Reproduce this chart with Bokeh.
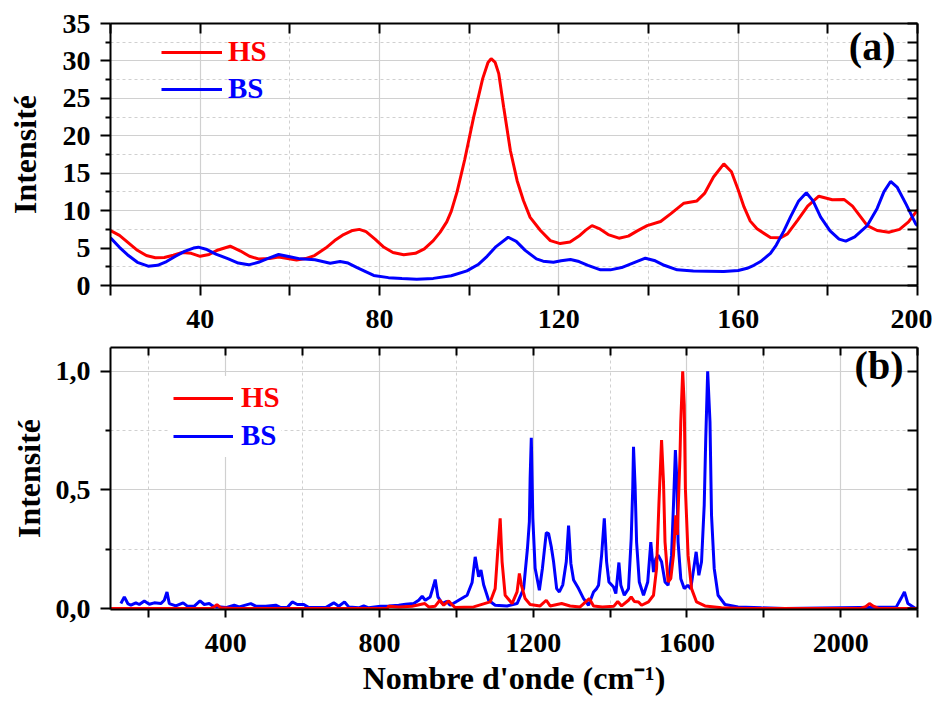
from bokeh.plotting import figure
from bokeh.layouts import column
from bokeh.models import (FixedTicker, LinearAxis, Range1d, Legend, LegendItem, Label,
                          CustomLabelingPolicy)
from bokeh.embed import file_html
from bokeh.resources import INLINE

FONT = "Liberation Serif"
RED = "#ff0000"
BLUE = "#0000ff"
GRID = "#d0d0d0"

# ---------------- panel (a) : 20 - 200 cm-1 ----------------
hs_a_x = [20, 22, 24, 26, 28, 30, 32, 34, 36, 38, 40, 42, 44, 46.7, 49, 51, 53, 55.5, 57.5,
          59.5, 61.5, 63.5, 65.5, 68, 70, 72, 74, 75.5, 77, 79, 81, 83, 85.4, 88, 90, 92,
          93.5, 95, 96, 97.3, 99, 101, 103, 104.2, 104.9, 105.8, 106.6, 107.7, 109.2, 110.7,
          112.1, 113.6, 115.9, 118.1, 120.3, 122.5, 124.5, 126, 127.4, 129, 131, 133.4, 135.5,
          137.5, 139.7, 142.7, 145, 147.9, 150.8, 152.5, 154.5, 156.8, 158.5, 160, 161.3,
          162.7, 164.2, 167.2, 169.5, 171, 173.2, 175.5, 178, 181, 183.6, 185.5, 188.8, 191,
          193.6, 196, 198, 200]
hs_a_y = [7.35, 6.7, 5.7, 4.7, 4.0, 3.7, 3.75, 4.05, 4.4, 4.3, 3.9, 4.15, 4.75, 5.25, 4.6, 3.9,
          3.55, 3.6, 3.8, 3.6, 3.4, 3.6, 4.0, 5.0, 6.0, 6.8, 7.35, 7.5, 7.2, 6.2, 5.1, 4.4, 4.1,
          4.3, 4.9, 6.0, 7.1, 8.5, 9.9, 12.5, 16.8, 22.5, 27.6, 29.8, 30.3, 29.8, 28.3, 23.8,
          18.0, 14.0, 11.35, 9.1, 7.35, 6.0, 5.6, 5.8, 6.6, 7.4, 8.0, 7.6, 6.8, 6.32, 6.6, 7.3,
          8.0, 8.55, 9.6, 11.0, 11.3, 12.3, 14.5, 16.25, 15.2, 12.8, 10.5, 8.6, 7.57, 6.4, 6.37,
          6.9, 8.68, 10.6, 11.93, 11.45, 11.5, 10.6, 8.0, 7.35, 7.12, 7.5, 8.5, 10.1]

bs_a_x = [20, 22, 24, 26, 28.4, 30.5, 32.5, 34.5, 36.5, 38.5, 39.6, 41.5, 43.5, 46.3, 48.5,
          50.8, 53, 55, 57.5, 60, 62.3, 65.6, 69, 71.2, 73, 75, 78.7, 82, 85, 88.3, 92, 96,
          99.5, 102, 104, 106, 108.7, 110.5, 112.5, 115, 116.5, 118.8, 120.5, 122.6, 124.5,
          126.5, 129.3, 131.5, 134, 136.5, 139.3, 141.5, 143.5, 146.4, 150, 153, 156.8, 160,
          162, 163.5, 165, 166, 167.2, 168.5, 170.2, 171.7, 173.5, 175.2, 176.7, 178.4, 180.5,
          182.5, 184, 186, 188.8, 191, 192.5, 194, 195.5, 197.5, 199.6, 200]
bs_a_y = [6.37, 5.1, 4.0, 3.1, 2.58, 2.7, 3.2, 3.9, 4.55, 5.0, 5.12, 4.8, 4.2, 3.56, 3.0, 2.76,
          3.1, 3.6, 4.14, 3.85, 3.56, 3.43, 2.98, 3.2, 3.0, 2.4, 1.34, 1.05, 0.92, 0.85, 0.95,
          1.3, 1.95, 2.8, 3.9, 5.2, 6.45, 5.9, 4.7, 3.55, 3.25, 3.1, 3.3, 3.47, 3.2, 2.7, 2.09,
          2.09, 2.4, 3.0, 3.65, 3.3, 2.7, 2.09, 1.95, 1.92, 1.87, 2.0, 2.3, 2.7, 3.2, 3.7, 4.3,
          5.4, 7.3, 9.2, 11.3, 12.38, 11.3, 9.13, 7.3, 6.2, 5.92, 6.5, 8.0, 10.3, 12.5, 13.9,
          13.1, 10.8, 8.24, 8.0]

a_x_range = (20, 200)
a_y_range = (0, 35)
a_x_major = [40, 80, 120, 160, 200]
a_x_minor = [20, 60, 100, 140, 180]
a_y_major = [0, 5, 10, 15, 20, 25, 30, 35]
a_y_minor = [2.5, 7.5, 12.5, 17.5, 22.5, 27.5, 32.5]

# ---------------- panel (b) : 100 - 2200 cm-1 ----------------
bs_b_x = [127, 136, 145, 153, 166, 175, 188, 201, 214, 231, 240, 247, 253, 270, 289, 300, 318,
          333, 344, 357, 365, 374, 387, 400, 422, 435, 465, 478, 504, 530, 543, 560, 573, 586,
          603, 616, 660, 681, 694, 709, 720, 746, 759, 772, 803, 824, 850, 868, 889, 902, 911,
          919, 932, 941, 945, 952, 963, 975, 984, 1006, 1028, 1041, 1049, 1058, 1064, 1071,
          1084, 1101, 1132, 1158, 1175, 1185, 1190, 1192, 1195, 1199, 1205, 1216, 1224, 1234,
          1240, 1247, 1253, 1261, 1268, 1277, 1286, 1292, 1298, 1305, 1318, 1331, 1344, 1357,
          1365, 1370, 1378, 1385, 1391, 1397, 1409, 1415, 1423, 1428, 1437, 1448, 1455, 1459,
          1461, 1465, 1469, 1476, 1487, 1498, 1506, 1513, 1519, 1525, 1534, 1543, 1551, 1560,
          1565, 1570, 1574, 1577, 1584, 1593, 1602, 1610, 1619, 1624, 1631, 1638, 1645, 1649,
          1654, 1660, 1664, 1671, 1681, 1699, 1733, 1794, 1855, 2145, 2157, 2166, 2175, 2192,
          2200]
bs_b_y = [0.021, 0.049, 0.021, 0.014, 0.024, 0.017, 0.032, 0.018, 0.024, 0.021, 0.035, 0.07,
          0.021, 0.011, 0.024, 0.01, 0.01, 0.032, 0.017, 0.021, 0.012, 0.007, 0.007, 0.004,
          0.014, 0.007, 0.021, 0.01, 0.01, 0.014, 0.004, 0.004, 0.028, 0.017, 0.017, 0.004,
          0.004, 0.024, 0.01, 0.028, 0.007, 0.003, 0.011, 0.003, 0.01, 0.011, 0.014, 0.018,
          0.021, 0.035, 0.052, 0.035, 0.049, 0.098, 0.122, 0.049, 0.021, 0.03, 0.014, 0.035,
          0.056, 0.11, 0.218, 0.134, 0.162, 0.1, 0.035, 0.014, 0.011, 0.021, 0.084, 0.253,
          0.366, 0.55, 0.72, 0.38, 0.17, 0.077, 0.17, 0.32, 0.316, 0.26, 0.197, 0.084, 0.07,
          0.1, 0.197, 0.35, 0.19, 0.12, 0.084, 0.042, 0.014, 0.07, 0.084, 0.098, 0.225, 0.38,
          0.197, 0.112, 0.091, 0.063, 0.194, 0.098, 0.056, 0.084, 0.295, 0.506, 0.682, 0.52,
          0.28, 0.112, 0.056, 0.112, 0.28, 0.154, 0.21, 0.225, 0.197, 0.112, 0.098, 0.225,
          0.436, 0.668, 0.534, 0.28, 0.126, 0.084, 0.098, 0.084, 0.183, 0.239, 0.14, 0.197,
          0.436, 0.717, 1.0, 0.787, 0.393, 0.169, 0.056, 0.017, 0.007, 0.003, 0.0, 0.007,
          0.042, 0.07, 0.021, 0.003, 0.0]

hs_b_x = [100, 360, 370, 377, 387, 420, 820, 824, 850, 885, 918, 928, 945, 957, 967, 980, 990,
          997, 1045, 1088, 1101, 1107, 1114, 1119, 1127, 1145, 1158, 1164, 1169, 1179, 1192,
          1218, 1234, 1244, 1274, 1296, 1322, 1346, 1357, 1380, 1410, 1420, 1430, 1448, 1455,
          1463, 1474, 1482, 1500, 1513, 1521, 1527, 1534, 1539, 1543, 1551, 1558, 1565, 1571,
          1575, 1582, 1584, 1589, 1593, 1596, 1603, 1612, 1625, 1647, 1690, 1750, 2050, 2065,
          2075, 2085, 2100, 2200]
hs_b_y = [0.0, 0.0, 0.007, 0.017, 0.003, 0.0, 0.0, 0.01, 0.007, 0.01, 0.021, 0.007, 0.01,
          0.035, 0.014, 0.032, 0.014, 0.004, 0.007, 0.028, 0.084, 0.225, 0.38, 0.197, 0.056,
          0.021, 0.07, 0.148, 0.1, 0.042, 0.017, 0.011, 0.035, 0.011, 0.021, 0.011, 0.007,
          0.042, 0.011, 0.007, 0.01, 0.03, 0.011, 0.035, 0.049, 0.03, 0.028, 0.014, 0.028,
          0.056, 0.169, 0.436, 0.71, 0.534, 0.28, 0.112, 0.126, 0.225, 0.393, 0.31, 0.646,
          0.787, 1.0, 0.857, 0.506, 0.225, 0.084, 0.028, 0.011, 0.003, 0.0, 0.0, 0.008, 0.021,
          0.01, 0.0, 0.0]

b_x_range = (100, 2200)
b_y_range = (-0.004, 1.1)
b_x_major = [400, 800, 1200, 1600, 2000]
b_x_minor = [200, 600, 1000, 1400, 1800, 2200]
b_y_major = [0, 0.5, 1]
b_y_minor = [0.25, 0.75]
b_y_labels = ["0,0", "0,5", "1,0"]

Y_TITLE = "Intensité"
X_TITLE = "Nombre d'onde (cm\u207b\u00b9)"

HIDE_CODE = """
for (const i of indices) { indices.unset(i) }
return indices
"""


def style_axis_common(ax):
    ax.axis_line_width = 2
    ax.major_tick_line_width = 2
    ax.minor_tick_line_width = 2
    ax.axis_line_color = "black"
    ax.major_tick_line_color = "black"
    ax.minor_tick_line_color = "black"


def style_title(ax, text, standoff):
    ax.axis_label = text
    ax.axis_label_text_font = FONT
    ax.axis_label_text_font_style = "bold"
    ax.axis_label_text_font_size = "32px"
    ax.axis_label_text_color = "black"
    ax.axis_label_standoff = standoff


def style_panel(p, xt, yt, xtick, xstandoff, ytitle_standoff):
    p.outline_line_color = None
    p.background_fill_color = "white"
    p.border_fill_color = "white"
    xb = p.below[0]
    yl = p.left[0]
    xb.ticker = xt
    xb.major_tick_out = xtick
    xb.major_tick_in = 0
    xb.minor_tick_out = xtick
    xb.minor_tick_in = 0
    style_axis_common(xb)
    xb.major_label_text_font = FONT
    xb.major_label_text_font_style = "bold"
    xb.major_label_text_font_size = "28px"
    xb.major_label_text_color = "black"
    xb.major_label_standoff = xstandoff

    yl.ticker = yt
    yl.major_tick_out = 10
    yl.major_tick_in = 0
    yl.minor_tick_out = 5
    yl.minor_tick_in = 0
    style_axis_common(yl)
    yl.major_label_text_font = FONT
    yl.major_label_text_font_style = "bold"
    yl.major_label_text_font_size = "28px"
    yl.major_label_text_color = "black"
    yl.major_label_standoff = 10
    style_title(yl, Y_TITLE, ytitle_standoff)

    p.xgrid.ticker = xt
    p.ygrid.ticker = yt
    for g in (p.xgrid, p.ygrid):
        g.grid_line_color = GRID
        g.grid_line_width = 1.2
        g.minor_grid_line_color = GRID
        g.minor_grid_line_width = 1
        g.minor_grid_line_dash = "3 3"

    top = LinearAxis(ticker=xt, major_tick_in=xtick, major_tick_out=0, minor_tick_in=xtick,
                     minor_tick_out=0, major_label_standoff=0,
                     major_label_policy=CustomLabelingPolicy(code=HIDE_CODE))
    right = LinearAxis(ticker=yt, major_tick_in=10, major_tick_out=0, minor_tick_in=10,
                       minor_tick_out=0, major_label_standoff=0,
                       major_label_policy=CustomLabelingPolicy(code=HIDE_CODE))
    for ax in (top, right):
        style_axis_common(ax)
        ax.major_label_text_font_size = "1px"
    p.add_layout(top, "above")
    p.add_layout(right, "right")


def add_legend(p, renderer, label, color, x, y, bg, glyph_w, standoff):
    leg = Legend(items=[LegendItem(label=label, renderers=[renderer])], location=(x, y),
                 orientation="vertical", padding=5 if bg else 0, spacing=0, margin=0,
                 glyph_width=glyph_w, glyph_height=32, label_height=32,
                 label_standoff=standoff, label_text_font=FONT, label_text_font_style="bold",
                 label_text_font_size="29px", label_text_color=color,
                 border_line_alpha=0, background_fill_color="white",
                 background_fill_alpha=1 if bg else 0)
    p.add_layout(leg)


def panel_tag(p, x, y, text, x_offset, y_offset):
    p.add_layout(Label(x=x, y=y, text=text, text_font=FONT, text_font_style="bold",
                       text_font_size="40px", text_color="black", x_offset=x_offset,
                       y_offset=y_offset, text_align="right", text_baseline="top"))


# ---------------- figure (a) ----------------
pa = figure(frame_width=807, frame_height=262, x_range=Range1d(*a_x_range),
            y_range=Range1d(*a_y_range), output_backend="svg", toolbar_location=None,
            min_border_left=110, min_border_right=15, min_border_top=23, min_border_bottom=56)
style_panel(pa, FixedTicker(ticks=a_x_major, minor_ticks=a_x_minor),
            FixedTicker(ticks=a_y_major, minor_ticks=a_y_minor), 10, 14, 17)
ra_hs = pa.line(hs_a_x, hs_a_y, line_color=RED, line_width=3)
ra_bs = pa.line(bs_a_x, bs_a_y, line_color=BLUE, line_width=3)
add_legend(pa, ra_hs, "HS", RED, 51, 217, False, 61, 6)
add_legend(pa, ra_bs, "BS", BLUE, 51, 180, False, 61, 6)
panel_tag(pa, a_x_range[1], a_y_range[1], "(a)", -22, 0)

# ---------------- figure (b) ----------------
pb = figure(frame_width=807, frame_height=262, x_range=Range1d(*b_x_range),
            y_range=Range1d(*b_y_range), output_backend="svg", toolbar_location=None,
            min_border_left=110, min_border_right=15, min_border_top=6, min_border_bottom=97)
style_panel(pb, FixedTicker(ticks=b_x_major, minor_ticks=b_x_minor),
            FixedTicker(ticks=b_y_major, minor_ticks=b_y_minor), 8, 16, 6)
pb.left[0].major_label_overrides = dict(zip(b_y_major, b_y_labels))
style_title(pb.below[0], X_TITLE, 5)
rb_bs = pb.line(bs_b_x, bs_b_y, line_color=BLUE, line_width=3)
rb_hs = pb.line(hs_b_x, hs_b_y, line_color=RED, line_width=3)
add_legend(pb, rb_hs, "HS", RED, 58, 190, True, 60, 8)
add_legend(pb, rb_bs, "BS", BLUE, 58, 152, True, 60, 8)
panel_tag(pb, b_x_range[1], b_y_range[1], "(b)", -14, 5)

layout = column(pa, pb)
open("out.html", "w").write(file_html(layout, INLINE))
